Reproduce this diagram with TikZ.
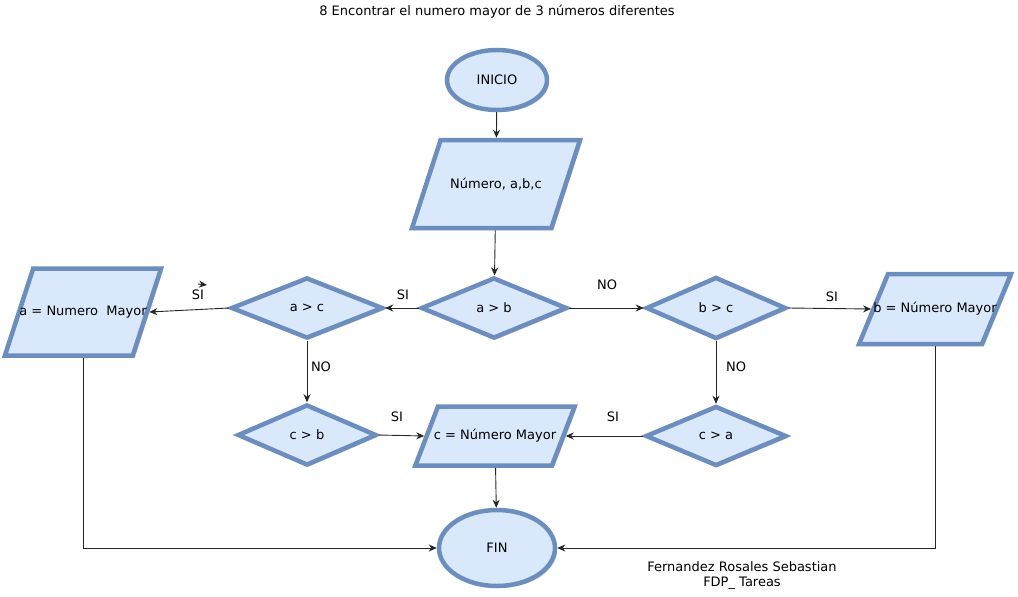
\documentclass[tikz,border=0pt]{standalone}
\usepackage{fontspec}
\setmainfont{DejaVu Sans}
\usetikzlibrary{shapes.geometric,arrows.meta,shadows}
\definecolor{borde}{HTML}{6C8EBF}
\definecolor{relleno}{HTML}{DAE8FC}
\begin{document}
\begin{tikzpicture}[x=1pt,y=-1pt,
		font=\fontsize{13}{15}\selectfont,
		caja/.style={draw=borde,fill=relleno,line width=4.5pt,
			drop shadow={shadow xshift=2pt,shadow yshift=-2pt,fill=black!22,opacity=1}},
		ovalo/.style={caja,ellipse,inner sep=0pt},
		rombo/.style={caja,diamond,inner sep=0pt},
		datos/.style={caja,trapezium,minimum width=0pt,minimum height=0pt},
		flecha/.style={draw=black!85,line width=0.9pt,-{Stealth[length=8pt,width=7pt]}}]
			\useasboundingbox (0,0) rectangle (1018,597);
			
			\node (titulo) at (497,12){8 Encontrar el numero mayor de 3 números diferentes};
			
			\node[ovalo,minimum width=100,minimum height=60] (ini)  at  (497, 80){INICIO};
			\node[datos,trapezium left angle=72,trapezium right angle=108,
				inner xsep=55.4pt,inner ysep=44pt,label=center:{Número, a,b,c}] (lee)  at  (496, 184){};
			
			\node[rombo,minimum width=146,minimum height=61] (ab)  at  (494, 308){a > b};
			\node[rombo,minimum width=152,minimum height=61] (ac)  at  (307, 308){a > c};
			\node[rombo,minimum width=140,minimum height=62] (bc)  at  (716, 308){b > c};
			\node[rombo,minimum width=139,minimum height=61] (cb)  at  (307, 435){c > b};
			\node[rombo,minimum width=141,minimum height=60] (ca)  at  (716, 436){c > a};
			
			\node[datos,trapezium left angle=72,trapezium right angle=108,
				inner xsep=49.8pt,inner ysep=43.5pt,label=center:{a = Numero~ Mayor}] (amayor)  at  (83, 312){};
			\node[datos,trapezium left angle=67.5,trapezium right angle=112.5,
				inner xsep=47pt,inner ysep=35pt,label=center:{b = Número Mayor}] (bmayor)  at  (935, 309){};
			\node[datos,trapezium left angle=69,trapezium right angle=111,
				inner xsep=57pt,inner ysep=29.5pt,label=center:{c = Número Mayor}] (cmayor)  at  (495, 436){};
			
			\node[ovalo,minimum width=116,minimum height=76] (fin)  at  (497, 548){FIN};
			
			\node (si1)  at  (403, 295){SI};
			\node (si2)  at  (198, 295){SI};
			\node (no1)  at  (607, 285){NO};
			\node (si3)  at  (832, 297){SI};
			\node (no2)  at  (321, 367){NO};
			\node (no3)  at  (736, 367){NO};
			\node (si4)  at  (397, 417){SI};
			\node (si5)  at  (613, 417){SI};
			
			\node[align=center] (autor)  at  (742, 576){Fernandez Rosales Sebastian\\FDP\_ Tareas};
			
			\coordinate (suelto1)  at  (198, 284);
			\coordinate (suelto2)  at  (207, 285);
			
			\draw[flecha] (ini) -- (lee);
			\draw[flecha] (lee) -- (ab);
			\draw[flecha] (ab.west) -- (ac.east);
			\draw[flecha] (ac.west) -- (amayor.east);
			\draw[flecha] (ab.east) -- (bc.west);
			\draw[flecha] (bc.east) -- (bmayor.west);
			\draw[flecha] (ac.south) -- (cb.north);
			\draw[flecha] (bc.south) -- (ca.north);
			\draw[flecha] (cb.east) -- (cmayor.west);
			\draw[flecha] (ca.west) -- (cmayor.east);
			\draw[flecha] (cmayor) -- (fin);
			\draw[flecha] (amayor.center |- amayor.south) |- (fin.west);
			\draw[flecha] (bmayor.center |- bmayor.south) |- (fin.east);
			\draw[flecha] (suelto1) -- (suelto2);
		\end{tikzpicture}
\end{document}
